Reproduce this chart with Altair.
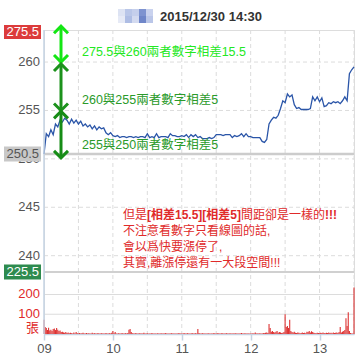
import altair as alt
import pandas as pd

# ---------------- data ----------------
price_values = [
    250.5, 252.6, 252.3, 253.0, 252.5, 253.6, 253.3, 254.0, 253.8, 254.2,
    254.0, 253.6, 254.1, 253.7, 254.0, 253.6, 253.9, 253.4, 253.6, 253.3,
    253.5, 253.1, 253.4, 253.0, 253.3, 253.1, 253.2, 252.7, 252.5, 252.7,
    252.4, 252.3, 252.4, 252.2, 252.3, 252.3, 252.2, 252.3, 252.3, 252.2,
    252.3, 252.2, 252.3, 252.3, 252.2, 252.6, 252.2, 252.3, 252.2, 252.6,
    252.2, 252.3, 252.3, 252.3, 252.2, 252.6, 252.4, 252.4, 252.3, 252.3,
    252.4, 252.3, 252.5, 252.2, 252.5, 252.3, 252.5, 252.2, 252.3, 252.1,
    252.1, 252.1, 252.2, 252.1, 252.2, 252.5, 252.5, 252.5, 252.4, 252.5,
    252.5, 252.5, 252.2, 252.4, 252.3, 252.4, 252.6, 252.3, 252.6, 252.3,
    252.3, 252.2, 252.2, 252.2, 252.2, 251.8, 251.7, 252.0, 253.6, 254.0,
    254.3, 254.2, 254.5, 255.2, 256.0, 255.8, 256.7, 256.4, 256.6, 255.6,
    255.2, 255.3, 255.1, 255.1, 255.1, 255.1, 255.2, 256.4, 256.0, 256.4,
    255.9, 256.3, 255.4, 255.5, 255.8, 255.7, 255.9, 255.8, 255.9, 255.7,
    256.0, 256.4, 256.0, 258.8, 259.2, 259.5,
]
volume_values = [
    72, 35, 30, 20, 32, 18, 22, 15, 25, 28,
    20, 30, 22, 15, 18, 10, 12, 8, 6, 10,
    5, 8, 4, 6, 4, 3, 8, 3, 10, 4,
    3, 5, 2, 4, 6, 3, 2, 5, 3, 4,
    2, 3, 6, 2, 4, 3, 2, 5, 2, 3,
    4, 2, 3, 2, 5, 3, 2, 4, 3, 6,
    15, 4, 10, 3, 2, 4, 3, 2, 5, 3,
    2, 4, 3, 5, 22, 25, 10, 4, 3, 2,
    5, 3, 2, 4, 3, 2, 3, 6, 2, 3,
    4, 2, 3, 2, 5, 3, 2, 3, 2, 4,
    3, 2, 4, 2, 3, 2, 5, 3, 2, 3,
    2, 4, 3, 2, 3, 2, 2, 4, 3, 2,
    3, 2, 5, 3, 2, 4, 3, 2, 3, 5,
    2, 3, 4, 2, 25, 5, 3, 2, 4, 3,
    2, 3, 2, 4, 3, 2, 3, 2, 5, 3,
    2, 4, 3, 2, 3, 5, 2, 3, 2, 4,
    3, 2, 4, 3, 2, 3, 2, 4, 3, 2,
    3, 2, 5, 3, 2, 4, 3, 2, 3, 2,
    3, 2, 4, 2, 8, 3, 2, 3, 4, 2,
    3, 5, 4, 6, 8, 5, 50, 30, 12, 15,
    10, 8, 12, 15, 6, 10, 8, 5, 6, 10,
    100, 35, 40, 30, 72, 15, 10, 8, 12, 6,
    5, 8, 6, 4, 5, 7, 5, 6, 4, 12,
    10, 15, 8, 14, 10, 6, 5, 4, 6, 5,
    4, 6, 5, 8, 5, 4, 6, 5, 7, 5,
    6, 4, 8, 5, 6, 7, 5, 10, 35, 8,
    12, 15, 20, 80, 40, 110, 15, 5, 3, 3,
    235,
]
price_ticks = [240, 245, 250, 255, 260]
volume_ticks = [100, 200]
hour_ticks = [9, 10, 11, 12, 13]
grid_times = ["09:30", "10:00", "10:30", "11:00", "11:30", "12:00", "12:30", "13:00", "13:30"]
prev_close = 250.5
limit_up_label = "275.5"
limit_down_label = "225.5"
title_text = "2015/12/30 14:30"
arrow_tops = [263.7, 259.8, 254.9]
arrow_bottoms = [260.0, 255.0, 250.1]
arrow_colors = ["#14e614", "#1c921c", "#168c16"]
note_texts = ["275.5與260兩者數字相差15.5", "260與255兩者數字相差5", "255與250兩者數字相差5"]
note_prices = [261.0, 256.1, 251.4]
note_colors = ["#22e822", "#2a9a2a", "#2a9a2a"]
red_line1 = [("但是", "normal", 0), ("[相差15.5][相差5]", "bold", 24), ("間距卻是一樣的", "normal", 118), ("!!!", "bold", 202)]
red_lines = ["不注意看數字只看線圖的話,", "會以爲快要漲停了,", "其實,離漲停還有一大段空間!!!"]
mosaic_colors = [
    ["#dde3f3", "#b9c6e8", "#c5cfec", "#7e93d0", "#c9d2ee"],
    ["#e6eaf6", "#aebde4", "#d3daf0", "#6f86c9", "#bac6e8"],
]

# ---------------- layout constants ----------------
DAY = "2015-12-30"
W, H = 310, 304
P_DOMAIN = [231.91, 263.31]
V_DOMAIN = [0, 1539]
LATIN = "Liberation Sans, Arial, Noto Sans CJK TC"
CJK = "Liberation Sans, Noto Sans CJK TC"
GRID = "#dcdcdc"
AXIS_BLUE = "#c5d3e3"
RED = "#e02a2a"

def fmt(ts):
    return ts.strftime("%Y-%m-%dT%H:%M:%S")

price_df = pd.DataFrame({
    "t": fmt(pd.date_range(f"{DAY} 09:00", periods=len(price_values), freq="2min")),
    "p": price_values,
})
vol_df = pd.DataFrame({
    "t": fmt(pd.date_range(f"{DAY} 09:00", periods=len(volume_values), freq="1min")),
    "v": volume_values,
})
grid_df = pd.DataFrame({"t": [f"{DAY}T{g}:00" for g in grid_times]})
pt_df = pd.DataFrame({"p": price_ticks})
vt_df = pd.DataFrame({"v": volume_ticks})

x_axis = alt.Axis(
    values=[alt.DateTime(year=2015, month=12, date=30, hours=h) for h in hour_ticks],
    format="%H", title=None, grid=False, domainColor=AXIS_BLUE, domainWidth=1.5,
    tickColor=AXIS_BLUE, tickSize=6, tickWidth=1.5, labelFont=LATIN, labelFontSize=13,
    labelColor="#555555", labelPadding=2, labelFlush=False,
)
x_scale = alt.Scale(domain=[alt.DateTime(year=2015, month=12, date=30, hours=9),
                            alt.DateTime(year=2015, month=12, date=30, hours=13, minutes=30)])

def X():
    return alt.X("t:T", scale=x_scale, axis=x_axis)

def YP(field="p"):
    return alt.Y(f"{field}:Q", scale=alt.Scale(domain=P_DOMAIN, nice=False, zero=False), axis=None)

def YV(field="v"):
    return alt.Y(f"{field}:Q", scale=alt.Scale(domain=V_DOMAIN, nice=False, zero=False), axis=None)

# ---------------- layers ----------------
vgrid = alt.Chart(grid_df).mark_rule(color=GRID, strokeDash=[4, 3], strokeWidth=1).encode(
    x=X(), y=alt.value(0), y2=alt.value(H))

# price panel
price_grid = alt.Chart(pt_df).mark_rule(color=GRID, strokeDash=[4, 3], strokeWidth=1).encode(
    y=YP(), x=alt.value(0), x2=alt.value(W))
ref_line = alt.Chart(pd.DataFrame({"p": [prev_close]})).mark_rule(color="#cccccc", strokeWidth=2.5).encode(
    y=YP(), x=alt.value(0), x2=alt.value(W))
price_line = alt.Chart(price_df).mark_line(color="#2a55a8", strokeWidth=1.3, interpolate="linear").encode(
    x=X(), y=YP())
price_labels = alt.Chart(pt_df).mark_text(align="right", baseline="middle", font=LATIN, fontSize=13,
                                          color="#555555").encode(
    y=YP(), x=alt.value(-4), text=alt.Text("p:Q", format="d"))
gray_badge = alt.Chart(pd.DataFrame({"p": [prev_close]})).mark_point(
    shape="M-1,-0.4L1,-0.4L1,0.4L-1,0.4Z", size=1369, filled=True, color="#c8c8c8", opacity=1).encode(
    y=YP(), x=alt.value(-21.5))
gray_badge_text = alt.Chart(pd.DataFrame({"p": [prev_close], "s": ["250.5"]})).mark_text(
    align="right", baseline="middle", font=LATIN, fontSize=13, color="#555555").encode(
    y=YP(), x=alt.value(-5), text="s:N")

arrow_df = pd.DataFrame({"top": arrow_tops, "bot": arrow_bottoms, "c": arrow_colors})
arrow_layers = []
for i in range(len(arrow_tops)):
    d = arrow_df.iloc[[i]]
    col = arrow_colors[i]
    arrow_layers.append(alt.Chart(d).mark_rule(color=col, strokeWidth=3).encode(
        x=alt.value(17), y=YP("top"), y2="bot:Q"))
    arrow_layers.append(alt.Chart(d).mark_point(shape="M-1,1L0,0L1,1", size=196, filled=False,
                                                color=col, strokeWidth=3, opacity=1).encode(
        x=alt.value(17), y=YP("top")))
    arrow_layers.append(alt.Chart(d).mark_point(shape="M-1,-1L0,0L1,-1", size=196, filled=False,
                                                color=col, strokeWidth=3, opacity=1).encode(
        x=alt.value(17), y=YP("bot")))

note_layers = []
for txt, p, c in zip(note_texts, note_prices, note_colors):
    note_layers.append(alt.Chart(pd.DataFrame({"p": [p], "s": [txt]})).mark_text(
        align="left", baseline="middle", font=CJK, fontSize=12.5, color=c).encode(
        y=YP(), x=alt.value(38), text="s:N"))

price_panel = alt.layer(price_grid, ref_line, price_line, *arrow_layers, *note_layers,
                        price_labels, gray_badge, gray_badge_text)

# volume panel
vol_grid = alt.Chart(vt_df).mark_rule(color=GRID, strokeWidth=1).encode(
    y=YV(), x=alt.value(0), x2=alt.value(W))
vol_bars = alt.Chart(vol_df).mark_rule(color="#dd3333", strokeWidth=1.1).encode(
    x=X(), y=YV(), y2=alt.datum(0))
vol_labels = alt.Chart(vt_df).mark_text(align="right", baseline="middle", font=LATIN, fontSize=13,
                                        color=RED).encode(
    y=YV(), x=alt.value(-4), text=alt.Text("v:Q", format="d"))
volume_panel = alt.layer(vol_grid, vol_bars, vol_labels)

# fixed decorations
sep = alt.Chart().mark_rule(color="#d0d0d0", strokeWidth=2).encode(
    y=alt.value(242), x=alt.value(0), x2=alt.value(W))
left_axis = alt.Chart().mark_rule(color=AXIS_BLUE, strokeWidth=1.5).encode(
    x=alt.value(0), y=alt.value(0), y2=alt.value(H))
unit = alt.Chart().mark_text(text="張", align="right", baseline="middle", font=CJK, fontSize=13,
                             color=RED).encode(x=alt.value(-5), y=alt.value(298))
up_rect = alt.Chart().mark_rect(color="#dc3b3b").encode(
    x=alt.value(-40), x2=alt.value(-3), y=alt.value(-5), y2=alt.value(9))
up_text = alt.Chart().mark_text(text=limit_up_label, align="right", baseline="middle", font=LATIN,
                                fontSize=13, color="white").encode(x=alt.value(-5), y=alt.value(2))
dn_rect = alt.Chart().mark_rect(color="#2e8b4f").encode(
    x=alt.value(-40), x2=alt.value(-3), y=alt.value(234.5), y2=alt.value(249.5))
dn_text = alt.Chart().mark_text(text=limit_down_label, align="right", baseline="middle", font=LATIN,
                                fontSize=13, color="white").encode(x=alt.value(-5), y=alt.value(242))
title = alt.Chart().mark_text(text=title_text, align="left", baseline="middle", font=LATIN,
                              fontSize=13, fontWeight="bold", color="#333333").encode(
    x=alt.value(116), y=alt.value(-13))
mosaic = []
for r, row in enumerate(mosaic_colors):
    for c, col in enumerate(row):
        mosaic.append(alt.Chart().mark_rect(color=col).encode(
            x=alt.value(74 + 7 * c), x2=alt.value(81 + 7 * c),
            y=alt.value(-21 + 7 * r), y2=alt.value(-14 + 7 * r)))

red_layers = []
for seg, weight, dx in red_line1:
    red_layers.append(alt.Chart().mark_text(text=seg, align="left", baseline="middle", font=CJK,
                                            fontSize=12, fontWeight=weight, color=RED).encode(
        x=alt.value(79 + dx), y=alt.value(185)))
for i, line in enumerate(red_lines):
    red_layers.append(alt.Chart().mark_text(text=line, align="left", baseline="middle", font=CJK,
                                            fontSize=12, color=RED).encode(
        x=alt.value(79), y=alt.value(201 + 16 * i)))

chart = alt.layer(
    vgrid, sep, volume_panel, price_panel, left_axis, unit,
    up_rect, up_text, dn_rect, dn_text, title, *mosaic, *red_layers,
).resolve_scale(y="independent").properties(
    width=W, height=H,
    autosize=alt.AutoSizeParams(type="none"),
    padding={"left": 44, "top": 30, "right": 10, "bottom": 24},
).configure_view(stroke=None).configure(background="white")

chart.save("out.html", embed_options={"renderer": "svg", "actions": False})
